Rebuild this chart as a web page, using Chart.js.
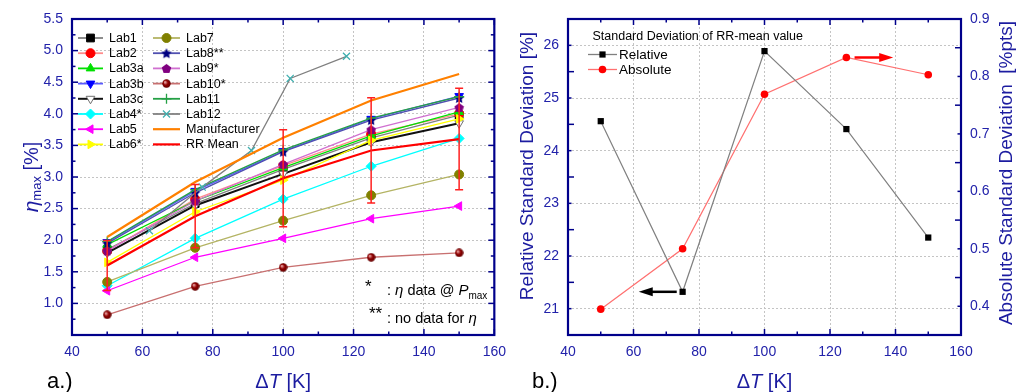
<!DOCTYPE html>
<html>
<head>
<meta charset="utf-8">
<script src="https://cdn.jsdelivr.net/npm/chart.js@4.4.1/dist/chart.umd.min.js"></script>
<style>
  html, body { margin: 0; padding: 0; background: #fff; }
  #wrap { position: relative; width: 1027px; height: 392px; overflow: hidden; }
  .panel { position: absolute; top: 0; height: 392px; }
  #panelA { left: 0; width: 515px; }
  #panelB { left: 515px; width: 512px; }
</style>
</head>
<body>
<div id="wrap">
  <div class="panel" id="panelA"><canvas id="etaChart" width="515" height="392"></canvas></div>
  <div class="panel" id="panelB"><canvas id="sdChart" width="512" height="392"></canvas></div>
</div>
<script>
// temperature differences of the round robin
const dT = [50, 75, 100, 125, 150];

// eta_max [%] per lab
const lab1  = [1.85, 2.58, 3.12, 3.62, 3.98];
const lab2  = [1.83, 2.65, 3.18, 3.68, 4.00];
const lab3a = [1.93, 2.62, 3.15, 3.65, 4.03];
const lab3b = [1.97, 2.78, 3.41, 3.92, 4.28];
const lab3c = [1.80, 2.55, 3.05, 3.55, 3.85];
const lab4  = [1.28, 2.03, 2.65, 3.17, 3.61];
const lab5  = [1.20, 1.73, 2.03, 2.34, 2.54];
const lab6  = [1.65, 2.45, 2.95, 3.58, 3.92];
const lab7  = [1.34, 1.88, 2.31, 2.71, 3.04];
const lab8  = [1.95, 2.75, 3.40, 3.90, 4.25];
const lab9  = [1.83, 2.62, 3.20, 3.75, 4.10];
const lab10 = [0.82, 1.27, 1.57, 1.73, 1.80];
const lab11 = [1.98, 2.80, 3.43, 3.93, 4.27];
const lab12T = [62, 77, 91, 102, 118];
const lab12  = [2.15, 2.84, 3.42, 4.56, 4.91];
const manufacturer = [2.05, 2.92, 3.62, 4.21, 4.63];
const rrMean = [1.60, 2.38, 2.98, 3.42, 3.60];

// standard deviation of the RR mean
const sdAbsolute = [0.395, 0.500, 0.769, 0.833, 0.803];
const sdRelative = [24.56, 21.32, 25.89, 24.41, 22.35];

// tick labels
const xTicks = [40, 60, 80, 100, 120, 140, 160];
const etaTicks = [1.0, 1.5, 2.0, 2.5, 3.0, 3.5, 4.0, 4.5, 5.0, 5.5];
const relTicks = [21, 22, 23, 24, 25, 26];
const absTicks = [0.4, 0.5, 0.6, 0.7, 0.8, 0.9];

const FONT = 'Arial, "Liberation Sans", sans-serif';
const AXIS = '#00008b';
const LABEL = '#2222aa';
const TITLE = '#1c1ca0';
const GRID = '#c4c4c4';

function markerCanvas(size, paint) {
  const c = document.createElement('canvas');
  c.width = size; c.height = size;
  paint(c.getContext('2d'), size / 2);
  return c;
}
function polygon(g, r, n, inner) {
  g.beginPath();
  const k = inner ? n * 2 : n;
  for (let i = 0; i < k; i++) {
    const a = -Math.PI / 2 + i * 2 * Math.PI / k;
    const rad = inner && i % 2 ? r * inner : r - 0.5;
    g.lineTo(r + rad * Math.cos(a), r + 0.5 + rad * Math.sin(a));
  }
  g.closePath();
}
const starMark = markerCanvas(12, (g, r) => { polygon(g, r, 5, 0.45); g.fillStyle = '#000080'; g.fill(); });
const pentMark = markerCanvas(11, (g, r) => { polygon(g, r, 5); g.fillStyle = '#800080'; g.fill(); });
const ballMark = markerCanvas(9, (g, r) => {
  const grad = g.createRadialGradient(r - 1.5, r - 1.5, 0.5, r, r, r);
  grad.addColorStop(0, '#e8a0a0');
  grad.addColorStop(0.45, '#900000');
  grad.addColorStop(1, '#600000');
  g.beginPath(); g.arc(r, r, r - 0.3, 0, Math.PI * 2); g.fillStyle = grad; g.fill();
});

const labSeries = [
  { label: 'Lab1',   data: lab1,  line: '#808080', fill: '#000000', shape: 'rect', r: 5.5 },
  { label: 'Lab2',   data: lab2,  line: '#ff8c8c', fill: '#ff0000', shape: 'circle', r: 4.5 },
  { label: 'Lab3a',  data: lab3a, line: '#00e000', fill: '#00e000', shape: 'triangle', r: 5 },
  { label: 'Lab3b',  data: lab3b, line: '#5a5aff', fill: '#0000ff', shape: 'triangle', rot: 180, r: 5 },
  { label: 'Lab3c',  data: lab3c, line: '#111111', fill: '#ffffff', edge: '#707070', shape: 'triangle', rot: 180, r: 5, w: 2 },
  { label: 'Lab4*',  data: lab4,  line: '#00ffff', fill: '#00ffff', shape: 'rectRot', r: 5 },
  { label: 'Lab5',   data: lab5,  line: '#ff00ff', fill: '#ff00ff', shape: 'triangle', rot: -90, r: 5 },
  { label: 'Lab6*',  data: lab6,  line: '#ffff00', fill: '#ffff00', shape: 'triangle', rot: 90, r: 5 },
  { label: 'Lab7',   data: lab7,  line: '#b4b464', fill: '#808000', shape: 'circle', r: 4.5 },
  { label: 'Lab8**', data: lab8,  line: '#5050b0', fill: '#000080', shape: starMark },
  { label: 'Lab9*',  data: lab9,  line: '#d070d0', fill: '#800080', shape: pentMark },
  { label: 'Lab10*', data: lab10, line: '#c87070', fill: '#800000', shape: ballMark },
  { label: 'Lab11',  data: lab11, line: '#25a045', fill: '#25a045', shape: 'cross', r: 5 },
  { label: 'Lab12',  data: lab12, xs: lab12T, line: '#808080', fill: '#40b0b0', shape: 'crossRot', r: 5 },
  { label: 'Manufacturer', data: manufacturer, line: '#ff8000', w: 2.2 },
  { label: 'RR Mean', data: rrMean, line: '#ff0000', w: 2.2 }
];

const etaDatasets = labSeries.map((s, i) => {
  const xs = s.xs || dT;
  return {
    label: s.label,
    data: s.data.map((v, j) => ({ x: xs[j], y: v })),
    borderColor: s.line,
    borderWidth: s.w || 1.3,
    pointStyle: s.shape || false,
    pointRotation: s.rot || 0,
    pointRadius: s.shape ? (s.r || 5) : 0,
    pointBackgroundColor: s.fill,
    pointBorderColor: s.edge || s.fill,
    pointBorderWidth: s.shape === 'cross' || s.shape === 'crossRot' ? 1.3 : 1,
    order: labSeries.length - i
  };
});

function axisTicks(values) {
  return scale => { scale.ticks = values.map(v => ({ value: v })); };
}
function baseScale(min, max, values, fmt) {
  return {
    type: 'linear', min: min, max: max,
    afterBuildTicks: axisTicks(values),
    grid: { color: GRID, lineWidth: 1, drawTicks: false },
    border: { display: false, dash: [2, 2] },
    ticks: { color: LABEL, font: { family: FONT, size: 14 }, padding: 9, maxRotation: 0, callback: fmt }
  };
}

// frame round the plot area with inward major/minor ticks on every side
const frameTicks = {
  id: 'frameTicks',
  afterDatasetsDraw(chart, args, o) {
    const { ctx, chartArea: a } = chart;
    const seg = (x1, y1, x2, y2) => { ctx.beginPath(); ctx.moveTo(x1, y1); ctx.lineTo(x2, y2); ctx.stroke(); };
    const isMajor = (v, m) => Math.abs(v / m - Math.round(v / m)) < 1e-6;
    ctx.save();
    ctx.strokeStyle = AXIS;
    ctx.lineWidth = 1.5;
    const sx = chart.scales.x;
    for (let v = sx.min; v <= sx.max + 1e-9; v += o.x.minor) {
      const p = sx.getPixelForValue(v);
      const len = isMajor(v - sx.min, o.x.major) ? 6 : 3.5;
      seg(p, a.bottom, p, a.bottom - len);
      seg(p, a.top, p, a.top + len);
    }
    o.sides.forEach(side => {
      const s = chart.scales[side.id];
      const n = Math.round((s.max - side.from) / side.minor);
      for (let k = 0; k <= n; k++) {
        const v = side.from + k * side.minor;
        const p = s.getPixelForValue(v);
        if (p < a.top - 0.5 || p > a.bottom + 0.5) continue;
        const len = k % side.ratio === 0 ? 6 : 3.5;
        if (side.at !== 'right') seg(a.left, p, a.left + len, p);
        if (side.at !== 'left') seg(a.right, p, a.right - len, p);
      }
    });
    ctx.lineWidth = 2.2;
    ctx.strokeRect(a.left, a.top, a.right - a.left, a.bottom - a.top);
    ctx.restore();
  }
};

// error bars of the RR mean from the absolute standard deviation
const rrErrorBars = {
  id: 'rrErrorBars',
  afterDatasetsDraw(chart) {
    const { ctx } = chart;
    const xs = chart.scales.x, ys = chart.scales.y;
    ctx.save();
    ctx.strokeStyle = '#ff2020';
    ctx.lineWidth = 1.5;
    dT.forEach((t, i) => {
      const x = xs.getPixelForValue(t);
      const top = ys.getPixelForValue(rrMean[i] + sdAbsolute[i]);
      const bot = ys.getPixelForValue(rrMean[i] - sdAbsolute[i]);
      ctx.beginPath();
      ctx.moveTo(x, top); ctx.lineTo(x, bot);
      ctx.moveTo(x - 4, top); ctx.lineTo(x + 4, top);
      ctx.moveTo(x - 4, bot); ctx.lineTo(x + 4, bot);
      ctx.stroke();
    });
    ctx.restore();
  }
};

// draws runs of [text, font] one after another, returns end x
function textRuns(ctx, runs, x, y) {
  runs.forEach(([t, f, dy]) => {
    ctx.font = f;
    ctx.fillText(t, x, y + (dy || 0));
    x += ctx.measureText(t).width;
  });
  return x;
}
function runsWidth(ctx, runs) {
  return runs.reduce((w, [t, f]) => { ctx.font = f; return w + ctx.measureText(t).width; }, 0);
}
function rotatedTitle(ctx, runs, cx, cy) {
  ctx.save();
  ctx.translate(cx, cy);
  ctx.rotate(-Math.PI / 2);
  ctx.textBaseline = 'middle';
  textRuns(ctx, runs, -runsWidth(ctx, runs) / 2, 0);
  ctx.restore();
}
function bottomTitle(ctx, cx, y) {
  const runs = [['\u0394', '20px ' + FONT], ['T', 'italic 20px ' + FONT], [' [K]', '20px ' + FONT]];
  ctx.textBaseline = 'alphabetic';
  textRuns(ctx, runs, cx - runsWidth(ctx, runs) / 2, y);
}

const etaDecor = {
  id: 'etaDecor',
  afterDraw(chart) {
    const { ctx, chartArea: a } = chart;
    ctx.save();
    // legend in two columns
    ctx.textBaseline = 'middle';
    chart.data.datasets.forEach((ds, i) => {
      const col = i < 8 ? 0 : 1, row = i % 8;
      const x1 = a.left + (col ? 81 : 6), x2 = a.left + (col ? 108 : 31);
      const y = a.top + 19 + row * 15.2;
      ctx.strokeStyle = ds.borderColor;
      ctx.lineWidth = Math.max(ds.borderWidth, 1.8);
      ctx.beginPath(); ctx.moveTo(x1, y); ctx.lineTo(x2, y); ctx.stroke();
      if (ds.pointStyle) {
        ctx.fillStyle = ds.pointBackgroundColor;
        ctx.strokeStyle = ds.pointBorderColor;
        ctx.lineWidth = ds.pointBorderWidth;
        Chart.helpers.drawPoint(ctx, { pointStyle: ds.pointStyle, rotation: ds.pointRotation, radius: ds.pointRadius, borderWidth: ds.pointBorderWidth }, (x1 + x2) / 2, y);
      }
      ctx.fillStyle = '#000';
      ctx.font = '12.5px ' + FONT;
      ctx.fillText(ds.label, x2 + 6, y + 0.5);
    });
    // footnotes
    ctx.fillStyle = '#000';
    ctx.textBaseline = 'alphabetic';
    ctx.font = '17px ' + FONT;
    ctx.fillText('*', a.left + 293, a.top + 273);
    ctx.fillText('**', a.left + 297, a.top + 300);
    textRuns(ctx, [[': ', '14.5px ' + FONT], ['\u03b7', 'italic 15px ' + FONT], [' data @ ', '14.5px ' + FONT],
      ['P', 'italic 15px ' + FONT], ['max', '10px ' + FONT, 4]], a.left + 315, a.top + 276);
    textRuns(ctx, [[': no data for ', '14.5px ' + FONT], ['\u03b7', 'italic 15px ' + FONT]], a.left + 315, a.top + 304);
    // axis titles
    ctx.fillStyle = TITLE;
    rotatedTitle(ctx, [['\u03b7', 'italic 21px ' + FONT], ['max', '13px ' + FONT, 5], [' [%]', '20px ' + FONT]],
      32, (a.top + a.bottom) / 2);
    bottomTitle(ctx, (a.left + a.right) / 2, 388);
    ctx.fillStyle = '#000';
    ctx.font = '22px ' + FONT;
    ctx.fillText('a.)', 47, 388);
    ctx.restore();
  }
};

new Chart(document.getElementById('etaChart'), {
  type: 'line',
  data: { datasets: etaDatasets },
  options: {
    responsive: false,
    animation: false,
    layout: { padding: { top: 19, right: 15, left: 0, bottom: 0 } },
    plugins: {
      legend: { display: false },
      tooltip: { enabled: false },
      frameTicks: {
        x: { major: 20, minor: 10 },
        sides: [{ id: 'y', from: 0.5, minor: 0.25, ratio: 2, at: 'both' }]
      }
    },
    scales: {
      x: Object.assign(baseScale(40, 160, xTicks, v => v), { afterFit: s => { s.height = 57; } }),
      y: Object.assign(baseScale(0.5, 5.5, etaTicks, v => v.toFixed(1)), { afterFit: s => { s.width = 72; } })
    }
  },
  plugins: [rrErrorBars, frameTicks, etaDecor]
});

// ---- panel b: standard deviation of the RR mean ----
function arrow(ctx, x1, x2, y, color) {
  const dir = Math.sign(x2 - x1);
  ctx.strokeStyle = color; ctx.fillStyle = color;
  ctx.lineWidth = 2.5;
  ctx.beginPath(); ctx.moveTo(x1, y); ctx.lineTo(x2 - dir * 12, y); ctx.stroke();
  ctx.beginPath();
  ctx.moveTo(x2, y); ctx.lineTo(x2 - dir * 14, y - 4.5); ctx.lineTo(x2 - dir * 14, y + 4.5);
  ctx.closePath(); ctx.fill();
}

const sdDecor = {
  id: 'sdDecor',
  afterDraw(chart) {
    const { ctx, chartArea: a } = chart;
    const xs = chart.scales.x, yl = chart.scales.y, yr = chart.scales.y1;
    ctx.save();
    arrow(ctx, xs.getPixelForValue(73.2), xs.getPixelForValue(61.6), yl.getPixelForValue(sdRelative[1]), '#000');
    arrow(ctx, xs.getPixelForValue(127.5), xs.getPixelForValue(139.3), yr.getPixelForValue(sdAbsolute[3]), '#ff0000');
    // legend
    ctx.fillStyle = '#000';
    ctx.textBaseline = 'middle';
    ctx.font = '12.5px ' + FONT;
    ctx.fillText('Standard Deviation of RR-mean value', a.left + 24.5, a.top + 18);
    chart.data.datasets.forEach((ds, i) => {
      const x1 = a.left + 20, x2 = a.left + 49, y = a.top + 35.5 + i * 15;
      ctx.strokeStyle = ds.borderColor; ctx.lineWidth = 1.3;
      ctx.beginPath(); ctx.moveTo(x1, y); ctx.lineTo(x2, y); ctx.stroke();
      ctx.fillStyle = ds.pointBackgroundColor;
      Chart.helpers.drawPoint(ctx, { pointStyle: ds.pointStyle, rotation: 0, radius: ds.pointRadius, borderWidth: 0 }, (x1 + x2) / 2, y);
      ctx.fillStyle = '#000';
      ctx.font = '13.5px ' + FONT;
      ctx.fillText(ds.label, x2 + 2, y + 0.5);
    });
    // axis titles
    ctx.fillStyle = TITLE;
    rotatedTitle(ctx, [['Relative Standard Deviation [%]', '19px ' + FONT]], 13, 166);
    rotatedTitle(ctx, [['Absolute Standard Deviation  [%pts]', '19px ' + FONT]], 492, 173);
    ctx.textBaseline = 'alphabetic';
    bottomTitle(ctx, (a.left + a.right) / 2, 388);
    ctx.fillStyle = '#000';
    ctx.font = '22px ' + FONT;
    ctx.fillText('b.)', 17, 388);
    ctx.restore();
  }
};

new Chart(document.getElementById('sdChart'), {
  type: 'line',
  data: {
    datasets: [
      {
        label: 'Relative',
        data: sdRelative.map((v, j) => ({ x: dT[j], y: v })),
        yAxisID: 'y',
        borderColor: '#808080', borderWidth: 1.2,
        pointStyle: 'rect', pointRadius: 4.4,
        pointBackgroundColor: '#000', pointBorderColor: '#000', pointBorderWidth: 0
      },
      {
        label: 'Absolute',
        data: sdAbsolute.map((v, j) => ({ x: dT[j], y: v })),
        yAxisID: 'y1',
        borderColor: '#ff7070', borderWidth: 1.2,
        pointStyle: 'circle', pointRadius: 3.8,
        pointBackgroundColor: '#ff0000', pointBorderColor: '#ff0000', pointBorderWidth: 0
      }
    ]
  },
  options: {
    responsive: false,
    animation: false,
    layout: { padding: { top: 19, right: 0, left: 0, bottom: 0 } },
    plugins: {
      legend: { display: false },
      tooltip: { enabled: false },
      frameTicks: {
        x: { major: 20, minor: 10 },
        sides: [
          { id: 'y', from: 20.5, minor: 0.5, ratio: 2, at: 'left' },
          { id: 'y1', from: 0.35, minor: 0.05, ratio: 2, at: 'right' }
        ]
      }
    },
    scales: {
      x: Object.assign(baseScale(40, 160, xTicks, v => v), { afterFit: s => { s.height = 57; } }),
      y: Object.assign(baseScale(20.5, 26.5, relTicks, v => v), { afterFit: s => { s.width = 53; } }),
      y1: Object.assign(baseScale(0.35, 0.9, absTicks, v => v.toFixed(1)), {
        position: 'right',
        grid: { drawOnChartArea: false, drawTicks: false },
        afterFit: s => { s.width = 66; }
      })
    }
  },
  plugins: [frameTicks, sdDecor]
});
</script>
</body>
</html>
